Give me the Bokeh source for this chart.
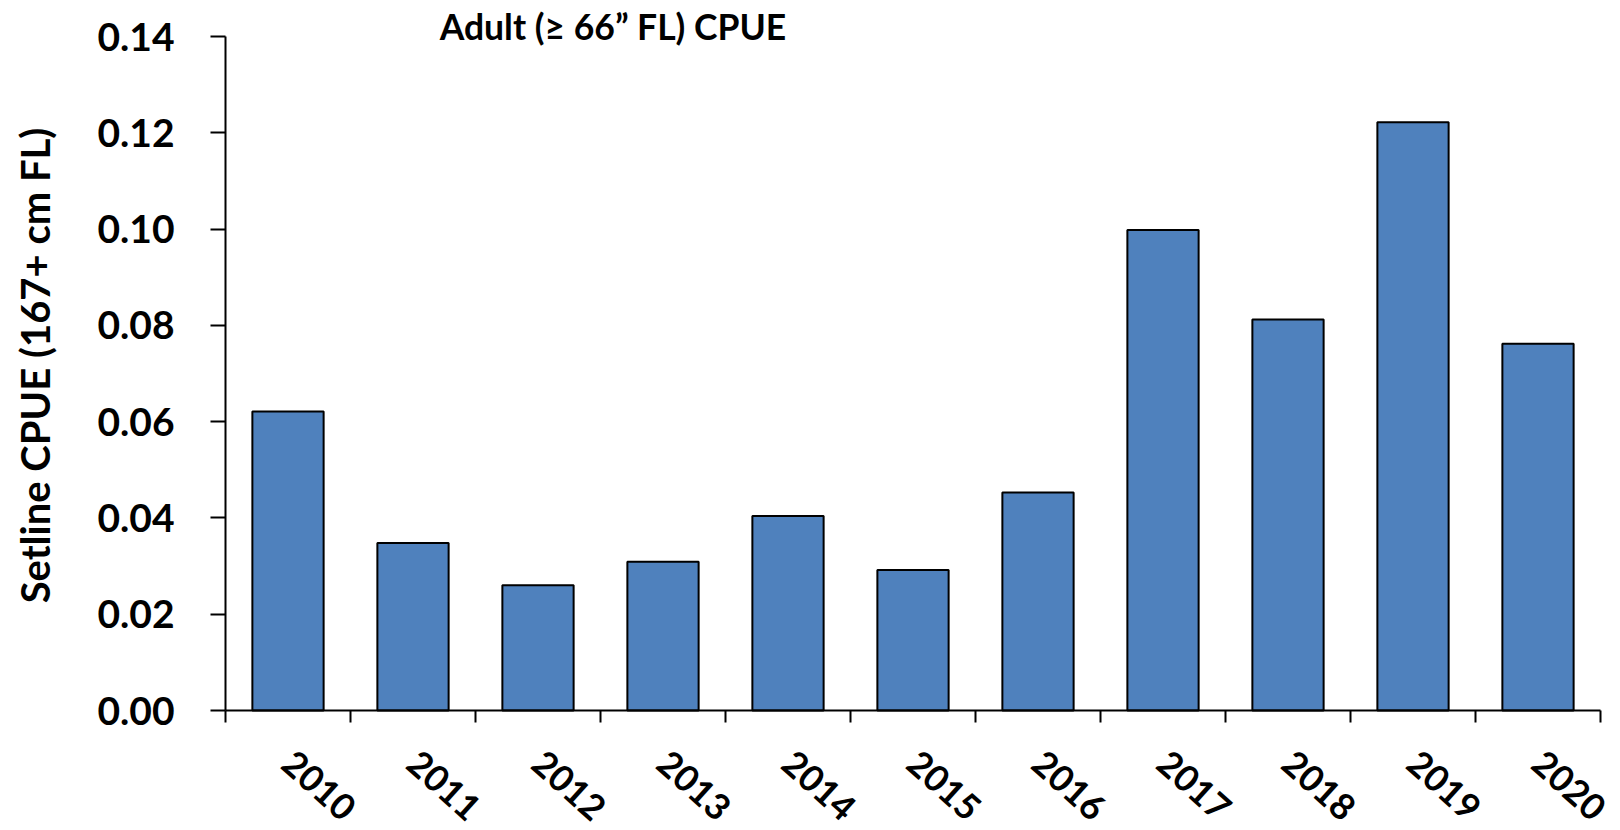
from bokeh.plotting import figure
from bokeh.models import Range1d, FixedTicker, NumeralTickFormatter, Label, ColumnDataSource
from bokeh.embed import file_html
from bokeh.resources import INLINE
import math

years = ["2010", "2011", "2012", "2013", "2014", "2015", "2016", "2017", "2018", "2019", "2020"]
cpue = [0.0621, 0.0348, 0.0260, 0.0309, 0.0404, 0.0292, 0.0453, 0.0998, 0.0812, 0.1222, 0.0762]
y_ticks = [0.0, 0.02, 0.04, 0.06, 0.08, 0.10, 0.12, 0.14]
title_text = "Adult (\u2265 66\u201d FL) CPUE"
y_label = "Setline CPUE (167+ cm FL)"

idx = list(range(len(years)))
src = ColumnDataSource(dict(x=idx, top=cpue, year=years))

FONT = "Lato"
Y_MAX = 0.14
W, H = 1620, 830
# the frame covers the whole canvas; axes are pinned inside it
# x: category -0.5 at 225px, 10.5 at 1600px ; y: 0 at 710px, 0.14 at 36px
kx = 1.0 / 125.0
ky = Y_MAX / 674.0
x0 = -0.5
x_start = x0 - 225 * kx
x_end = len(years) - 0.5 + (W - 1600) * kx
y_start = -(H - 710) * ky
y_end = Y_MAX + 36 * ky

p = figure(width=W, height=H, output_backend="svg", toolbar_location=None,
           x_range=Range1d(x_start, x_end), y_range=Range1d(y_start, y_end),
           min_border_left=0, min_border_right=0, min_border_top=0, min_border_bottom=0)
p.outline_line_color = None
p.xgrid.grid_line_color = None
p.ygrid.grid_line_color = None
p.background_fill_color = "white"
p.border_fill_color = "white"

p.vbar(x="x", top="top", bottom=0, width=0.57, source=src,
       fill_color="#4F81BD", line_color="black", line_width=2)

# x axis: labels at category centres, ticks at category boundaries, axis sits at y=0
xa = p.xaxis[0]
xa.fixed_location = 0
xa.bounds = (x0, len(years) - 0.5)
xa.ticker = FixedTicker(ticks=idx, minor_ticks=[i - 0.5 for i in range(len(years) + 1)])
xa.major_label_overrides = {i: y for i, y in zip(idx, years)}
xa.major_tick_line_color = None
xa.major_tick_out = 12
xa.major_tick_in = 0
xa.minor_tick_line_color = "black"
xa.minor_tick_line_width = 2
xa.minor_tick_out = 12
xa.minor_tick_in = 0
xa.axis_line_color = "black"
xa.axis_line_width = 2
xa.major_label_orientation = -0.73
xa.major_label_text_font = FONT
xa.major_label_text_font_style = "bold"
xa.major_label_text_font_size = "36px"
xa.major_label_text_color = "black"
xa.major_label_standoff = 35

ya = p.yaxis[0]
ya.fixed_location = x0
ya.ticker = FixedTicker(ticks=y_ticks)
ya.bounds = (0, Y_MAX)
ya.formatter = NumeralTickFormatter(format="0.00")
ya.major_tick_line_color = "black"
ya.major_tick_line_width = 2
ya.major_tick_out = 15
ya.major_tick_in = 0
ya.minor_tick_line_color = None
ya.axis_line_color = "black"
ya.axis_line_width = 2
ya.major_label_text_font = FONT
ya.major_label_text_font_style = "bold"
ya.major_label_text_font_size = "39px"
ya.major_label_text_color = "black"
ya.major_label_standoff = 36

ylab = Label(x=x0 - 191 * kx, y=Y_MAX / 2, y_offset=8, text=y_label, angle=math.pi / 2,
             text_align="center", text_baseline="middle",
             text_font=FONT, text_font_style="bold", text_font_size="40px", text_color="black")
p.add_layout(ylab)

title = Label(x=2.60, y=Y_MAX, y_offset=10, text=title_text, text_align="center", text_baseline="middle",
              text_font=FONT, text_font_style="bold", text_font_size="35.5px", text_color="black")
p.add_layout(title)

open("out.html", "w").write(file_html(p, INLINE))
